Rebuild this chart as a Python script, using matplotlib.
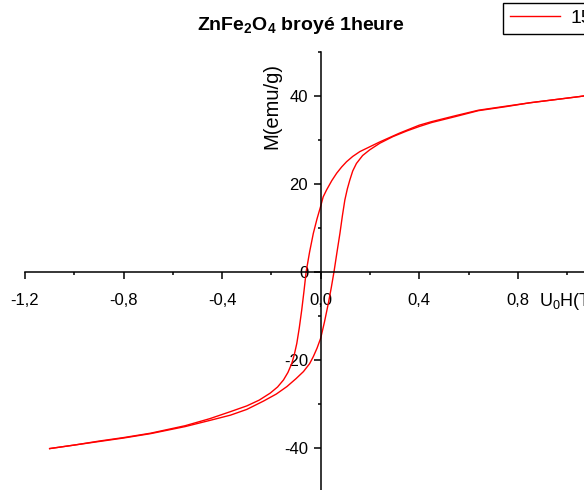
"""
Hysteresis loop M(H) of ZnFe2O4 after 1 hour of milling.
"""
import matplotlib
matplotlib.use('Agg')
import matplotlib.pyplot as plt
from matplotlib.ticker import MultipleLocator, FuncFormatter

plt.rcParams['font.family'] = ['Liberation Sans', 'DejaVu Sans']
plt.rcParams['mathtext.fontset'] = 'custom'
plt.rcParams['mathtext.rm'] = 'Liberation Sans'
plt.rcParams['mathtext.bf'] = 'Liberation Sans:bold'

# descending branch (field from +1.1 T down to -1.1 T)
h_down = [1.10, 1.05, 0.95, 0.85, 0.75, 0.64, 0.55, 0.45, 0.40, 0.32, 0.24,
          0.159, 0.13, 0.105, 0.085, 0.065, 0.045, 0.024, 0.01, 0.0, -0.015,
          -0.030, -0.045, -0.059, -0.068, -0.077, -0.087, -0.097, -0.107,
          -0.117, -0.133, -0.151, -0.175, -0.205, -0.25, -0.30, -0.366, -0.45,
          -0.55, -0.69, -0.80, -0.90, -1.00, -1.10]
m_down = [40.2, 39.8, 39.1, 38.4, 37.6, 36.7, 35.5, 34.1, 33.3, 31.5, 29.5,
          27.3, 26.2, 25.0, 23.8, 22.4, 20.7, 18.6, 17.0, 14.9, 12.0,
          8.7, 4.5, 0.0, -4.5, -8.7, -12.8, -16.3, -18.8,
          -20.8, -22.9, -24.6, -26.2, -27.6, -29.2, -30.5, -31.8, -33.4,
          -35.0, -36.7, -37.7, -38.5, -39.4, -40.2]

# ascending branch (field from -1.1 T up to +1.1 T)
h_up = [-1.10, -1.00, -0.90, -0.80, -0.69, -0.55, -0.45, -0.366, -0.30,
        -0.232, -0.18, -0.137, -0.10, -0.070, -0.045, -0.030, -0.015, 0.0,
        0.015, 0.031, 0.043, 0.054, 0.066, 0.078, 0.088, 0.098, 0.108, 0.118,
        0.130, 0.145, 0.17, 0.199, 0.24, 0.293, 0.35, 0.40, 0.45, 0.55, 0.64,
        0.75, 0.85, 0.95, 1.05, 1.10]
m_up = [-40.2, -39.4, -38.6, -37.8, -36.8, -35.2, -33.8, -32.6, -31.3,
        -29.4, -27.8, -26.1, -24.3, -22.7, -20.9, -19.3, -17.4, -15.1,
        -11.5, -7.2, -3.6, 0.0, 4.4, 8.7, 12.7, 16.3, 18.8, 20.8,
        22.9, 24.6, 26.4, 27.7, 29.2, 30.7, 32.0, 33.0, 33.9, 35.3, 36.6,
        37.5, 38.4, 39.1, 39.8, 40.2]

fig = plt.figure(figsize=(5.84, 4.90), dpi=100)
ax = fig.add_axes([25 / 584, -1.7 / 490, 591.4 / 584, 440 / 490])

line, = ax.plot(h_down, m_down, color='red', lw=1.0)
ax.plot(h_up, m_up, color='red', lw=1.0)

ax.set_xlim(-1.2, 1.2)
ax.set_ylim(-50, 50)

# axes crossing at the origin
for side in ['top', 'right']:
    ax.spines[side].set_visible(False)
for side in ['left', 'bottom']:
    ax.spines[side].set_position(('data', 0))
    ax.spines[side].set_linewidth(1.1)

ax.xaxis.set_major_locator(MultipleLocator(0.4))
ax.xaxis.set_minor_locator(MultipleLocator(0.2))
ax.yaxis.set_major_locator(MultipleLocator(20))
ax.yaxis.set_minor_locator(MultipleLocator(10))
ax.xaxis.set_major_formatter(FuncFormatter(lambda v, p: f'{v:.1f}'.replace('.', ',')))
ax.yaxis.set_major_formatter(FuncFormatter(lambda v, p: f'{v:.0f}'))

ax.tick_params(axis='both', which='major', length=5, width=1.1, labelsize=12)
ax.tick_params(axis='both', which='minor', length=2.5, width=1.1)
ax.tick_params(axis='x', which='major', pad=10)
ax.tick_params(axis='y', which='major', pad=4)

fig.text(301 / 584, 1 - 30 / 490, r'ZnFe$_\mathbf{2}$O$_\mathbf{4}$ broyé 1heure',
         ha='center', va='baseline', fontsize=14, fontweight='bold')
fig.text(272 / 584, 1 - 106 / 490, 'M(emu/g)', rotation=90,
         ha='center', va='center', fontsize=14.5)
fig.text(539 / 584, 1 - 306 / 490, r'U$_0$H(T)', ha='left', va='baseline',
         fontsize=13)

fig.legend([line], ['15K'], loc='upper left',
           bbox_to_anchor=(503 / 584, 1 - 2.7 / 490), fancybox=False,
           edgecolor='black', framealpha=1, fontsize=14, borderaxespad=0,
           handlelength=2.6, borderpad=0.35, handletextpad=0.5)

fig.savefig('out.png', dpi=100)
